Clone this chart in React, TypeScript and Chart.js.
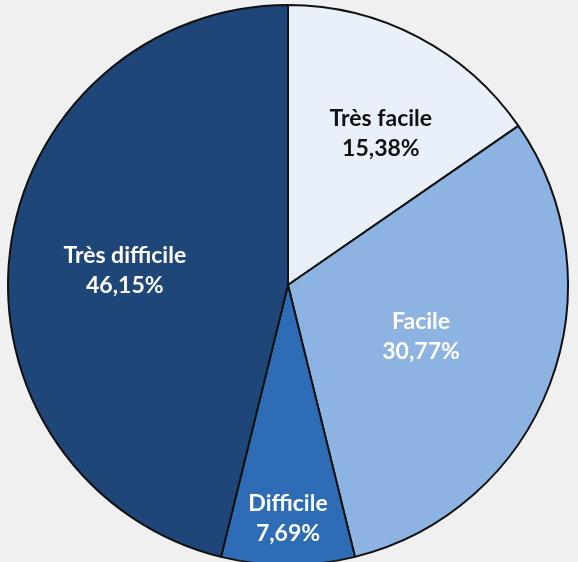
import React, { useEffect, useRef } from "react";
import { Chart, registerables } from "chart.js";

Chart.register(...registerables);

const categories = ["Très facile", "Facile", "Difficile", "Très difficile"];
const values = [15.38, 30.77, 7.69, 46.15];
const valueLabels = ["15,38%", "30,77%", "7,69%", "46,15%"];
const colors = ["#E9F0FA", "#8DB3E2", "#2E6CB6", "#1F4678"];
const labelColors = ["#111111", "#FFFFFF", "#FFFFFF", "#FFFFFF"];
const labelRadius = [0.635, 0.51, 0.835, 0.585];
const labelAngleShiftDeg = [3.8, 0.5, 0, -2];

const labelPlugin = {
  id: "sliceLabels",
  afterDatasetsDraw(chart: any) {
    const ctx = chart.ctx;
    const meta = chart.getDatasetMeta(0);
    ctx.save();
    ctx.font = "bold 23px Lato, 'Open Sans', sans-serif";
    ctx.textAlign = "center";
    ctx.textBaseline = "middle";
    meta.data.forEach((arc: any, i: number) => {
      const { x, y, startAngle, endAngle, outerRadius } = arc.getProps(
        ["x", "y", "startAngle", "endAngle", "outerRadius"],
        true
      );
      const mid = (startAngle + endAngle) / 2 + (labelAngleShiftDeg[i] * Math.PI) / 180;
      const r = outerRadius * labelRadius[i];
      const cx = x + Math.cos(mid) * r;
      const cy = y + Math.sin(mid) * r;
      ctx.fillStyle = labelColors[i];
      ctx.fillText(categories[i], cx, cy - 15);
      ctx.fillText(valueLabels[i], cx, cy + 15);
    });
    ctx.restore();
  },
};

export default function App() {
  const ref = useRef<HTMLCanvasElement>(null);
  useEffect(() => {
    document.body.style.margin = "0";
    document.body.style.background = "#F0F0F0";
    const chart = new Chart(ref.current!, {
      type: "pie",
      data: {
        labels: categories,
        datasets: [
          {
            data: values,
            backgroundColor: colors,
            borderColor: "#111111",
            borderWidth: 2,
          },
        ],
      },
      options: {
        animation: false,
        responsive: false,
        maintainAspectRatio: false,
        layout: { padding: { left: 7, right: 9, top: 4, bottom: 4 } },
        plugins: {
          legend: { display: false },
          tooltip: { enabled: false },
        },
      },
      plugins: [labelPlugin],
    });
    return () => chart.destroy();
  }, []);
  return (
    <div
      style={{
        position: "fixed",
        left: 0,
        top: 0,
        width: 578,
        height: 562,
        overflow: "hidden",
        background: "#F0F0F0",
      }}
    >
      <canvas ref={ref} width={578} height={570} style={{ display: "block" }} />
    </div>
  );
}
